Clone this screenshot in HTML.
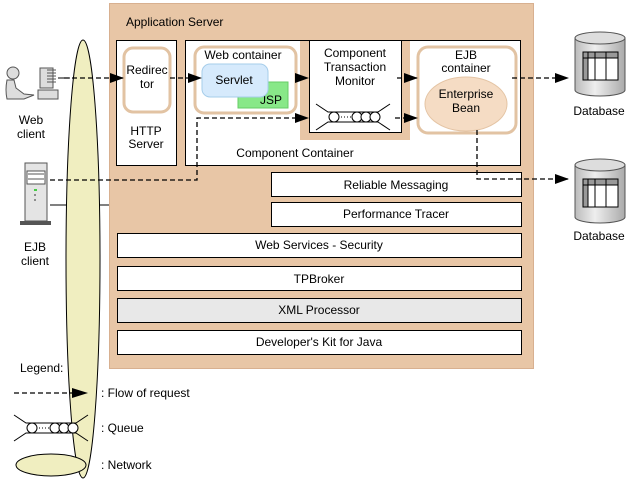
<!DOCTYPE html>
<html><head><meta charset="utf-8"><style>
html,body{margin:0;padding:0;background:#fff}
svg{display:block;font-family:"Liberation Sans",sans-serif;font-size:12px}
</style></head><body>
<svg width="632" height="481" viewBox="0 0 632 481" xmlns="http://www.w3.org/2000/svg">
<defs>
<marker id="ar" markerWidth="14" markerHeight="10" refX="13" refY="5" orient="auto" markerUnits="userSpaceOnUse"><path d="M0,0 L14,5 L0,10 Z" fill="#000" stroke="none"/></marker>
<linearGradient id="cyl" x1="0" x2="1"><stop offset="0" stop-color="#bbb"/><stop offset="0.4" stop-color="#eee"/><stop offset="1" stop-color="#aaa"/></linearGradient>
<g id="db">
<path d="M0,6 L0,58 A25,6 0 0 0 50,58 L50,6 Z" fill="url(#cyl)" stroke="#555"/>
<ellipse cx="25" cy="6" rx="25" ry="6" fill="#ddd" stroke="#555"/>
<rect x="8" y="20" width="35" height="28" fill="#fff" stroke="#000"/>
<rect x="8" y="20" width="35" height="6" fill="#999"/>
<rect x="8" y="20" width="5" height="28" fill="#999"/>
<path d="M8,26 H43 M13,20 V48 M20,20 V48 M31,20 V48 M8,20 H43 V48 H8 Z" stroke="#000" fill="none"/>
</g>
<g id="queue">
<path d="M-24,-13 L-12,-5 L38,-5 L50,-13 M-24,13 L-12,5 L38,5 L50,13" stroke="#000" fill="none"/>
<circle cx="-6" cy="0" r="5" fill="#fff" stroke="#000"/>
<circle cx="17" cy="0" r="5" fill="#fff" stroke="#000"/>
<circle cx="26" cy="0" r="5" fill="#fff" stroke="#000"/>
<circle cx="35" cy="0" r="5" fill="#fff" stroke="#000"/>
<path d="M1,0 H11" stroke="#000" stroke-dasharray="1,2"/>
</g>
</defs>

<rect x="109.5" y="3.5" width="424" height="365" fill="#e8c6a6" stroke="#d8b090"/>
<text x="126" y="26">Application Server</text>

<line x1="58" y1="78" x2="70" y2="78" stroke="#000"/>
<line x1="50" y1="205" x2="109" y2="205" stroke="#000"/>
<ellipse cx="83" cy="259" rx="17" ry="219" fill="#f0eec0" stroke="#000"/>

<rect x="116.5" y="40.5" width="60" height="125" fill="#fff" stroke="#000"/>
<rect x="124" y="48" width="46" height="64" rx="9" fill="#fff" stroke="#e2c3a3" stroke-width="3"/>
<text x="147" y="74" text-anchor="middle">Redirec</text>
<text x="147" y="88" text-anchor="middle">tor</text>
<text x="146" y="135" text-anchor="middle">HTTP</text>
<text x="146" y="148" text-anchor="middle">Server</text>

<rect x="185.5" y="40.5" width="335" height="125" fill="#fff" stroke="#000"/>
<rect x="300" y="41" width="110" height="99" fill="#e8c6a6"/>
<rect x="309.5" y="40.5" width="92" height="92" fill="#fff" stroke="#000"/>
<text x="355" y="57" text-anchor="middle">Component</text>
<text x="355" y="71" text-anchor="middle">Transaction</text>
<text x="355" y="85" text-anchor="middle">Monitor</text>
<use href="#queue" x="340" y="117"/>
<text x="295" y="157" text-anchor="middle">Component Container</text>

<rect x="195" y="47" width="101" height="66" rx="9" fill="#fff" stroke="#e2c3a3" stroke-width="3"/>
<text x="243" y="59" text-anchor="middle">Web container</text>
<rect x="238" y="82" width="50" height="26" fill="#88e888" stroke="#66cc66"/>
<text x="282" y="104" text-anchor="end">JSP</text>
<rect x="202" y="64" width="66" height="33" rx="8" fill="#d6eafc" stroke="#a6cdea"/>
<text x="234" y="84" text-anchor="middle">Servlet</text>

<rect x="418" y="47" width="98" height="86" rx="10" fill="#fff" stroke="#e2c3a3" stroke-width="3"/>
<text x="466" y="59" text-anchor="middle">EJB</text>
<text x="466" y="72" text-anchor="middle">container</text>
<ellipse cx="466" cy="104" rx="41" ry="27" fill="#f5dcc4" stroke="#e4c4a4"/>
<text x="466" y="98" text-anchor="middle">Enterprise</text>
<text x="466" y="112" text-anchor="middle">Bean</text>

<rect x="271.5" y="172.5" width="250" height="24" fill="#fff" stroke="#000"/>
<text x="396" y="189" text-anchor="middle">Reliable Messaging</text>
<rect x="271.5" y="202.5" width="250" height="24" fill="#fff" stroke="#000"/>
<text x="396" y="218" text-anchor="middle">Performance Tracer</text>
<rect x="117.5" y="233.5" width="404" height="24" fill="#fff" stroke="#000"/>
<text x="319" y="249" text-anchor="middle">Web Services - Security</text>
<rect x="117.5" y="266.5" width="404" height="24" fill="#fff" stroke="#000"/>
<text x="319" y="283" text-anchor="middle">TPBroker</text>
<rect x="117.5" y="298.5" width="404" height="24" fill="#e8e8e8" stroke="#000"/>
<text x="319" y="314" text-anchor="middle">XML Processor</text>
<rect x="117.5" y="330.5" width="404" height="24" fill="#fff" stroke="#000"/>
<text x="319" y="346" text-anchor="middle">Developer's Kit for Java</text>

<g stroke="#000" stroke-dasharray="5,3" fill="none" stroke-width="1.3">
<path d="M64,78 H123" marker-end="url(#ar)"/>
<path d="M170,78 H201" marker-end="url(#ar)"/>
<path d="M296,78 H296"/>
<path d="M397,78 H417" marker-end="url(#ar)"/>
<path d="M512,78 H568" marker-end="url(#ar)"/>
<path d="M50,180 H197 V118 H296"/>
<path d="M395,118 H417" marker-end="url(#ar)"/>
<path d="M477,130 V179 H568" marker-end="url(#ar)"/>
</g>
<path d="M309,78 L295,73 L295,83 Z M309,118 L295,113 L295,123 Z" fill="#000"/>

<use href="#db" x="575" y="32"/>
<text x="599" y="115" text-anchor="middle">Database</text>
<use href="#db" x="575" y="159"/>
<text x="599" y="240" text-anchor="middle">Database</text>

<circle cx="13" cy="73" r="6" fill="#ddd" stroke="#555"/>
<path d="M7,80 Q5,90 7,99 L24,99 L34,95 L24,94 L16,88 L14,80 Z" fill="#ddd" stroke="#555"/>
<rect x="40" y="68" width="13" height="20" fill="#ddd" stroke="#555"/>
<path d="M47,70 H56 M47,73 H56 M47,76 H56 M47,79 H56 M47,82 H56" stroke="#555"/>
<rect x="38" y="90" width="20" height="9" fill="#ddd" stroke="#555"/>
<text x="31" y="124" text-anchor="middle">Web</text>
<text x="31" y="138" text-anchor="middle">client</text>

<rect x="25" y="163" width="22" height="58" fill="#e4e4e4" stroke="#555"/>
<rect x="27" y="171" width="18" height="13" fill="#fff" stroke="#555"/>
<path d="M28,174 H44 M28,179 H44" stroke="#555"/>
<rect x="34" y="189" width="3" height="2" fill="#4c4"/>
<path d="M35,194 V196 M35,199 V201" stroke="#333"/>
<rect x="20" y="221" width="31" height="4" fill="#555"/>
<text x="35" y="251" text-anchor="middle">EJB</text>
<text x="35" y="265" text-anchor="middle">client</text>

<text x="20" y="372">Legend:</text>
<path d="M14,393 H75" stroke="#000" stroke-dasharray="5,3" stroke-width="1.3"/>
<path d="M72,388 L88,393 L72,398 Z" fill="#000"/>
<text x="101" y="397">: Flow of request</text>
<use href="#queue" x="38" y="428"/>
<text x="101" y="432">: Queue</text>
<ellipse cx="51" cy="465" rx="35" ry="11" fill="#f0eec0" stroke="#000"/>
<text x="101" y="469">: Network</text>
</svg>
</body></html>
